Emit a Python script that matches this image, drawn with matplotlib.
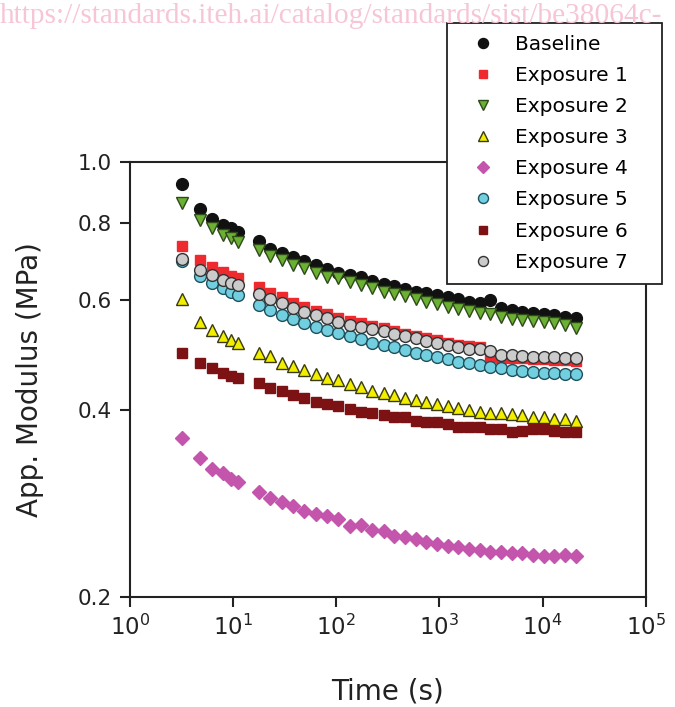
import matplotlib
matplotlib.use("Agg")
import matplotlib.pyplot as plt
from matplotlib.ticker import FixedLocator, FixedFormatter, NullLocator, LogLocator, LogFormatterMathtext

# times (s)
time_s = [3.2, 4.8, 6.3, 7.9, 9.5, 11.2,
          17.8, 22.9, 29.5, 38, 49, 63, 81, 105, 135, 174, 224, 288,
          366, 464, 589, 748, 949, 1205, 1528, 1940, 2461, 3124, 3964,
          5031, 6383, 8101, 10280, 13050, 16560, 21020]

baseline = [0.922, 0.841, 0.810, 0.792, 0.784, 0.772,
            0.747, 0.725, 0.715, 0.704, 0.694, 0.684, 0.674, 0.664, 0.659, 0.654,
            0.645, 0.637, 0.633, 0.626, 0.619, 0.617, 0.612, 0.607, 0.603, 0.596,
            0.594, 0.601, 0.583, 0.579, 0.575, 0.573, 0.570, 0.568, 0.564, 0.562]
exposure1 = [0.733, 0.696, 0.679, 0.666, 0.656, 0.652,
             0.630, 0.617, 0.608, 0.594, 0.586, 0.577, 0.571, 0.562, 0.556, 0.552,
             0.546, 0.542, 0.536, 0.530, 0.526, 0.522, 0.518, 0.513, 0.509, 0.507,
             0.505, 0.487, 0.485, 0.485, 0.485, 0.483, 0.483, 0.481, 0.481, 0.480]
exposure2 = [0.860, 0.807, 0.784, 0.764, 0.755, 0.744,
             0.723, 0.707, 0.696, 0.684, 0.676, 0.664, 0.654, 0.652, 0.642, 0.635,
             0.628, 0.619, 0.614, 0.610, 0.603, 0.596, 0.592, 0.586, 0.581, 0.577,
             0.573, 0.570, 0.564, 0.560, 0.558, 0.556, 0.554, 0.552, 0.548, 0.542]
exposure3 = [0.603, 0.554, 0.538, 0.526, 0.518, 0.513,
             0.494, 0.489, 0.476, 0.471, 0.464, 0.456, 0.450, 0.446, 0.441, 0.436,
             0.429, 0.426, 0.423, 0.418, 0.415, 0.412, 0.409, 0.406, 0.403, 0.400,
             0.397, 0.396, 0.396, 0.394, 0.392, 0.390, 0.390, 0.387, 0.386, 0.384]
exposure4 = [0.360, 0.335, 0.321, 0.316, 0.310, 0.306,
             0.295, 0.289, 0.284, 0.280, 0.275, 0.272, 0.270, 0.267, 0.260, 0.261,
             0.256, 0.255, 0.251, 0.250, 0.248, 0.245, 0.243, 0.242, 0.241, 0.239,
             0.238, 0.236, 0.236, 0.235, 0.235, 0.234, 0.233, 0.233, 0.234, 0.233]
exposure5 = [0.694, 0.656, 0.640, 0.628, 0.619, 0.612,
             0.590, 0.579, 0.568, 0.560, 0.552, 0.544, 0.538, 0.532, 0.526, 0.520,
             0.513, 0.509, 0.505, 0.500, 0.494, 0.490, 0.487, 0.483, 0.478, 0.476,
             0.473, 0.469, 0.467, 0.464, 0.462, 0.461, 0.459, 0.459, 0.457, 0.456]
exposure6 = [0.494, 0.476, 0.467, 0.459, 0.454, 0.450,
             0.442, 0.434, 0.429, 0.422, 0.418, 0.412, 0.409, 0.405, 0.402, 0.397,
             0.396, 0.393, 0.390, 0.389, 0.384, 0.382, 0.382, 0.379, 0.376, 0.376,
             0.375, 0.373, 0.372, 0.369, 0.370, 0.372, 0.372, 0.370, 0.369, 0.368]
exposure7 = [0.699, 0.671, 0.659, 0.647, 0.640, 0.635,
             0.614, 0.603, 0.594, 0.583, 0.575, 0.568, 0.562, 0.554, 0.548, 0.544,
             0.540, 0.536, 0.530, 0.526, 0.522, 0.516, 0.513, 0.509, 0.505, 0.501,
             0.501, 0.498, 0.490, 0.490, 0.489, 0.487, 0.487, 0.487, 0.485, 0.485]

labels = ["Baseline", "Exposure 1", "Exposure 2", "Exposure 3",
          "Exposure 4", "Exposure 5", "Exposure 6", "Exposure 7"]
series = [baseline, exposure1, exposure2, exposure3,
          exposure4, exposure5, exposure6, exposure7]
styles = [
    dict(marker="o", ms=8.5, mfc="#111111", mec="#111111"),
    dict(marker="s", ms=7, mfc="#ee2a2e", mec="#ee2a2e"),
    dict(marker="v", ms=8, mfc="#6cb033", mec="#2e4a1a"),
    dict(marker="^", ms=8, mfc="#f2ee00", mec="#3a3a10"),
    dict(marker="D", ms=7, mfc="#c455ad", mec="#c455ad"),
    dict(marker="o", ms=8.5, mfc="#72cfe0", mec="#20505c"),
    dict(marker="s", ms=7, mfc="#7d1215", mec="#7d1215"),
    dict(marker="o", ms=8.5, mfc="#cbcbcb", mec="#333333"),
]

plt.rcParams["font.family"] = "DejaVu Sans"
fig = plt.figure(figsize=(6.75, 7.07), dpi=100)
ax = fig.add_axes([0.1926, 0.1556, 0.764, 0.6146])

for y, lab, st in zip(series, labels, styles):
    ax.plot(time_s, y, ls="none", mew=1.0, label=lab, **st)

ax.set_xscale("log")
ax.set_yscale("log")
ax.set_xlim(1, 1e5)
ax.set_ylim(0.2, 1.0)

ax.xaxis.set_major_locator(LogLocator(base=10, numticks=10))
ax.xaxis.set_major_formatter(LogFormatterMathtext())
ax.xaxis.set_minor_locator(NullLocator())
yt = [0.2, 0.4, 0.6, 0.8, 1.0]
ax.yaxis.set_major_locator(FixedLocator(yt))
ax.yaxis.set_major_formatter(FixedFormatter(["0.2", "0.4", "0.6", "0.8", "1.0"]))
ax.yaxis.set_minor_locator(NullLocator())

for s in ax.spines.values():
    s.set_linewidth(1.5)
    s.set_color("#222222")
ax.tick_params(direction="out", length=7, width=1.5, color="#222222",
               labelsize=15.5, labelcolor="#222222", pad=6)
ax.tick_params(axis="x", labelsize=16.5)

ax.set_xlabel("Time (s)", fontsize=20, color="#222222", labelpad=27)
ax.set_ylabel("App. Modulus (MPa)", fontsize=20, color="#222222", labelpad=24)

leg = fig.legend(loc="upper left",
                 bbox_to_anchor=(447 / 675, 1 - 283 / 707, 215 / 675, 260 / 707),
                 mode="expand", borderaxespad=0, fontsize=14.5, numpoints=1,
                 handlelength=2.4, handletextpad=0.4, borderpad=0.6,
                 labelspacing=0.6, fancybox=False, framealpha=1, markerscale=0.85)
leg.get_frame().set_edgecolor("#222222")
leg.get_frame().set_linewidth(1.3)

fig.text(0.0, 1 - 3 / 707, "https://standards.iteh.ai/catalog/standards/sist/be38064c-",
         fontsize=21.2, family="Liberation Serif", color="#f7c6d6", va="top", ha="left",
         zorder=10)

fig.savefig("out.png", dpi=100)
